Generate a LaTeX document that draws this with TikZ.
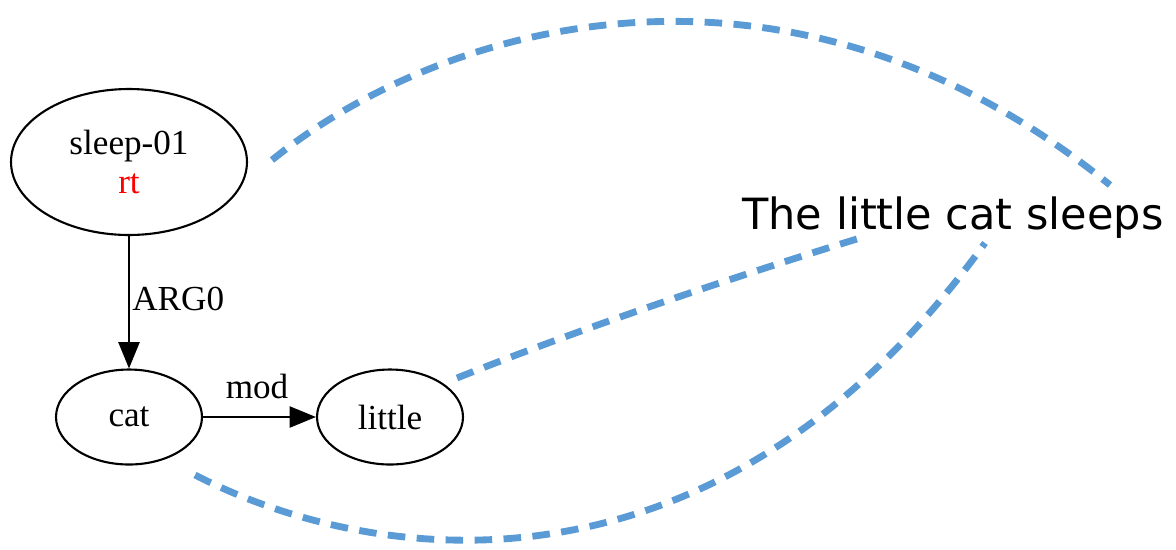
\documentclass[tikz,border=0pt]{standalone}
\usepackage{fontspec}
\setmainfont{Liberation Serif}
\newfontfamily\sentfont{DejaVu Sans}
\usetikzlibrary{shapes.geometric,arrows.meta}
\definecolor{dashblue}{RGB}{91,155,213}
\begin{document}
\begin{tikzpicture}[x=0.02cm,y=-0.02cm,
  amrnode/.style={draw,ellipse,line width=1.2pt,inner sep=0pt,font=\fontsize{20}{22.7}\selectfont},
  amredge/.style={line width=1.2pt,-{Triangle[length=15pt,width=12pt]}},
  elabel/.style={font=\fontsize{20}{24}\selectfont,inner sep=0pt},
  alignline/.style={dashblue,line width=3.9pt,dash pattern=on 10pt off 6.5pt}]
\useasboundingbox (0,0) rectangle (1176,549);
\node[amrnode,minimum width=4.72cm,minimum height=2.92cm,align=center] (sleep) at (129,162) {sleep-01\\\textcolor{red}{rt}};
\node[amrnode,minimum width=2.92cm,minimum height=1.9cm] (cat) at (129,417) {cat};
\node[amrnode,minimum width=2.92cm,minimum height=1.9cm] (little) at (390,417) {little};
\draw[amredge] (sleep) -- (cat);
\draw[amredge] (cat) -- (little);
\node[elabel,anchor=base west] (arg) at (132,310) {ARG0};
\node[elabel,anchor=base] (mod) at (257,398) {mod};
\node[anchor=base,inner sep=0pt,font=\sentfont\fontsize{24.5}{28}\selectfont] (sent) at (953,229) {The little cat sleeps};
\coordinate (a1) at (272,160);
\coordinate (a2) at (1110,185);
\coordinate (b1) at (457,378);
\coordinate (b2) at (860,238);
\coordinate (c1) at (195,475);
\coordinate (c2) at (985,243);
\draw[alignline] (a1) .. controls (445,20) and (790,-75) .. (a2);
\draw[alignline] (b1) .. controls (590,325) and (740,275) .. (b2);
\draw[alignline] (c1) .. controls (380,570) and (720,610) .. (c2);
\end{tikzpicture}
\end{document}
